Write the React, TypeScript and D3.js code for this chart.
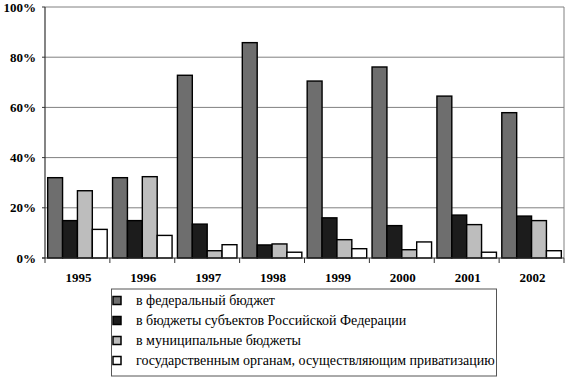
import React from "react";
import * as d3 from "d3";

const years = ["1995", "1996", "1997", "1998", "1999", "2000", "2001", "2002"];
const federal = [32, 32, 72.8, 85.8, 70.5, 76.1, 64.5, 57.9];
const regional = [14.9, 14.9, 13.5, 5.2, 16, 12.9, 17.1, 16.7];
const municipal = [26.8, 32.4, 2.9, 5.6, 7.3, 3.3, 13.3, 14.9];
const privatization = [11.4, 9, 5.3, 2.3, 3.7, 6.4, 2.3, 2.9];
const seriesNames = [
  "в федеральный бюджет",
  "в бюджеты субъектов Российской Федерации",
  "в муниципальные бюджеты",
  "государственным органам, осуществляющим приватизацию",
];
const seriesColors = ["#6e6e6e", "#1c1c1c", "#bdbdbd", "#ffffff"];
const yTicks = [0, 20, 40, 60, 80, 100];

const FONT = "Liberation Serif";

export default function App() {
  const W = 570, H = 379;
  const left = 45, right = 564, top = 7, bottom = 258;
  const series = [federal, regional, municipal, privatization];
  const x = d3.scaleBand<string>().domain(years).range([left, right]).paddingInner(0).paddingOuter(0);
  const y = d3.scaleLinear().domain([0, 100]).range([bottom, top]);
  const inner = d3.scaleBand<number>().domain([0, 1, 2, 3]).range([0, x.bandwidth()]).paddingOuter(0.18).paddingInner(0);
  return (
    <svg id="chart" width={W} height={H} fontFamily={FONT} style={{ position: "absolute", left: 0, top: 0, fontFamily: FONT }}>
      <style>{`#chart text { font-family: "Liberation Serif", "Times New Roman", serif !important; }`}</style>
      <rect x={0} y={0} width={W} height={H} fill="#fff" />
      <line x1={left} x2={right} y1={top} y2={top} stroke="#808080" strokeWidth={1} />
      <line x1={right} x2={right} y1={top} y2={bottom} stroke="#808080" strokeWidth={1} />
      {yTicks.map((t) => (
        <g key={t}>
          {t > 0 && t < 100 && (
            <line x1={left} x2={right} y1={y(t)} y2={y(t)} stroke="#808080" strokeWidth={1} />
          )}
          <line x1={left - 3} x2={left} y1={y(t)} y2={y(t)} stroke="#333" strokeWidth={1} />
          <text x={36} y={y(t) + 4.5} textAnchor="end" fontFamily={FONT} fontSize={13} fontWeight="bold">
            {t}%
          </text>
        </g>
      ))}
      {years.map((yr, i) => (
        <g key={yr}>
          {series.map((s, k) => (
            <rect
              key={k}
              x={(x(yr) as number) + (inner(k) as number)}
              y={y(s[i])}
              width={inner.bandwidth()}
              height={bottom - y(s[i])}
              fill={seriesColors[k]}
              stroke="#000"
              strokeWidth={1.4}
            />
          ))}
          <text
            x={(x(yr) as number) + x.bandwidth() / 2 + 1}
            y={282}
            textAnchor="middle"
            fontFamily={FONT}
            fontSize={13}
            fontWeight="bold"
          >
            {yr}
          </text>
        </g>
      ))}
      <line x1={left} x2={left} y1={top} y2={bottom} stroke="#333" strokeWidth={1.2} />
      <line x1={left - 3} x2={right} y1={bottom} y2={bottom} stroke="#333" strokeWidth={1.2} />
      {d3.range(years.length + 1).map((i) => {
        const xx = left + i * x.bandwidth();
        return <line key={i} x1={xx} x2={xx} y1={bottom} y2={bottom + 5} stroke="#333" strokeWidth={1} />;
      })}
      <rect x={111.5} y={289} width={385} height={87} fill="#fff" stroke="#555" strokeWidth={1} />
      {seriesNames.map((n, k) => (
        <g key={n}>
          <rect x={113} y={296.5 + k * 20} width={8} height={8} fill={seriesColors[k]} stroke="#000" strokeWidth={1.5} />
          <text x={136} y={305 + k * 20} fontFamily={FONT} fontSize={14}>
            {n}
          </text>
        </g>
      ))}
    </svg>
  );
}
